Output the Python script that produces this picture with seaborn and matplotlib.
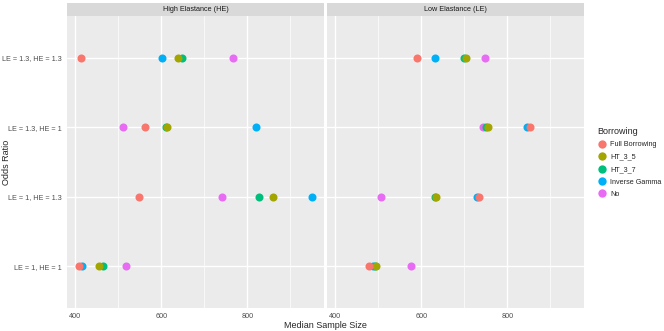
import pandas as pd
import matplotlib
matplotlib.use("Agg")
import matplotlib.pyplot as plt
from matplotlib.lines import Line2D
import seaborn as sns

sns.set_style("white")
plt.rcParams['font.family'] = ['Liberation Sans', 'DejaVu Sans']

# =========================
# DATA
# =========================
odds_ratios = ["LE = 1.3, HE = 1.3", "LE = 1.3, HE = 1", "LE = 1, HE = 1.3", "LE = 1, HE = 1"]
methods = ["Full Borrowing", "HT_3_5", "HT_3_7", "Inverse Gamma", "No"]
palette = ["#F8766D", "#A3A500", "#00BF7D", "#00B0F6", "#E76BF3"]
panels = ["High Elastance (HE)", "Low Elastance (LE)"]

# median sample size per odds ratio row, one list per method
he_full = [413, 562, 548, 408]
he_ht35 = [639, 614, 860, 456]
he_ht37 = [648, 611, 826, 465]
he_ig = [601, 819, 950, 417]
he_no = [767, 510, 741, 519]

le_full = [590, 853, 735, 478]
le_ht35 = [703, 754, 634, 495]
le_ht37 = [699, 751, 631, 492]
le_ig = [633, 845, 730, 487]
le_no = [747, 743, 506, 577]

rows = []
for panel, series in zip(panels, [
        [he_full, he_ht35, he_ht37, he_ig, he_no],
        [le_full, le_ht35, le_ht37, le_ig, le_no]]):
    for m, vals in zip(methods, series):
        for o, v in zip(odds_ratios, vals):
            rows.append({"Panel": panel, "Borrowing": m, "Odds Ratio": o, "Median Sample Size": v})
df = pd.DataFrame(rows)

# =========================
# FIGURE
# =========================
W, H = 664, 331
fig = plt.figure(figsize=(W / 100, H / 100), dpi=100)

def box(x0, y0, x1, y1):
    return [x0 / W, 1 - y1 / H, (x1 - x0) / W, (y1 - y0) / H]

panel_px = [(67, 324), (327, 584)]
draw_order = ["No", "Inverse Gamma", "HT_3_7", "HT_3_5", "Full Borrowing"]

for i, (panel, (x0, x1)) in enumerate(zip(panels, panel_px)):
    ax = fig.add_axes(box(x0, 16, x1, 308))
    ax.set_facecolor("#EBEBEB")
    sub = df[df["Panel"] == panel]
    for m in draw_order:
        d = sub[sub["Borrowing"] == m]
        sns.stripplot(data=d, x="Median Sample Size", y="Odds Ratio", order=odds_ratios,
                      color=palette[methods.index(m)], jitter=False, size=5.8,
                      linewidth=0, ax=ax, zorder=3)
    ax.set_xlim(381, 978)
    ax.set_ylim(3.6, -0.6)
    ax.set_xticks([400, 600, 800])
    ax.set_xticks([500, 700, 900], minor=True)
    ax.grid(True, which="major", color="white", linewidth=1.0, zorder=0)
    ax.grid(True, which="minor", axis="x", color="white", linewidth=0.5, zorder=0)
    ax.set_axisbelow(True)
    for s in ax.spines.values():
        s.set_visible(False)
    ax.tick_params(axis="both", which="major", length=2, width=0.6, color="#333333",
                   labelsize=5.2, labelcolor="#4D4D4D", pad=1.5)
    ax.tick_params(axis="x", which="minor", length=0)
    ax.set_xlabel("")
    ax.set_ylabel("")
    if i == 1:
        ax.tick_params(axis="y", length=0, labelleft=False)

    # facet strip
    sax = fig.add_axes(box(x0, 3, x1, 16))
    sax.set_facecolor("#D9D9D9")
    sax.set_xticks([])
    sax.set_yticks([])
    for s in sax.spines.values():
        s.set_visible(False)
    sax.text(0.5, 0.5, panel, ha="center", va="center", fontsize=5.2, color="#1A1A1A",
             transform=sax.transAxes)

fig.text(325.5 / W, 1 - 325 / H, "Median Sample Size", ha="center", va="center", fontsize=6.5)
fig.text(7 / W, 1 - 162 / H, "Odds Ratio", ha="center", va="center", rotation=90, fontsize=6.5)

# legend
handles = [Line2D([0], [0], marker="o", linestyle="", markersize=6, markerfacecolor=c,
                  markeredgewidth=0) for c in palette]
leg = fig.legend(handles, methods, title="Borrowing", loc="upper left",
                 bbox_to_anchor=(594 / W, 1 - 123 / H), frameon=False, fontsize=5.2,
                 title_fontsize=6.5, handletextpad=0.5, labelspacing=0.75, borderpad=0,
                 handlelength=1.2)
leg._legend_box.align = "left"

fig.savefig("out.png", dpi=100)
